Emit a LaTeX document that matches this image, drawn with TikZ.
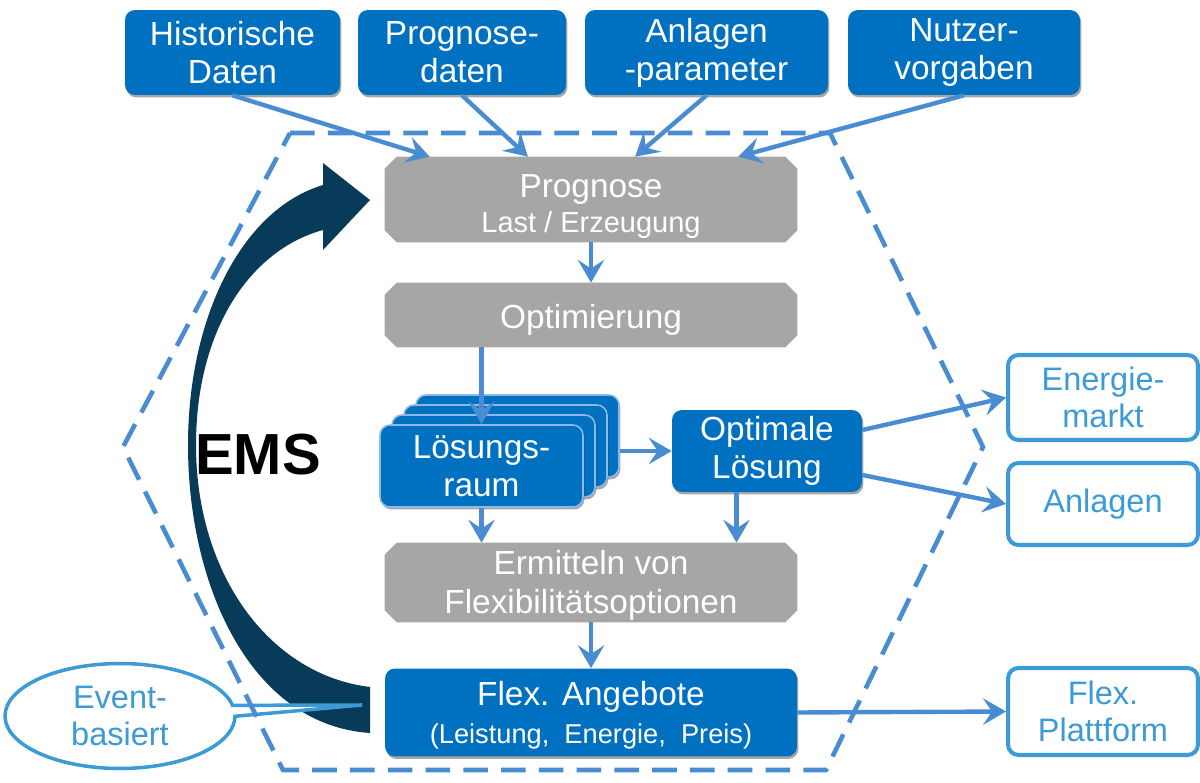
\documentclass[tikz,border=0pt]{standalone}
\usepackage{fontspec}
\setmainfont{Liberation Sans}
\usetikzlibrary{arrows.meta,shapes.callouts,shadows,calc,backgrounds}
\definecolor{boxblue}{HTML}{0070C0}
\definecolor{linkblue}{HTML}{4A8CD2}
\definecolor{outblue}{HTML}{3C9BD7}
\definecolor{edgeblue}{HTML}{8CB9E6}
\definecolor{boxgray}{HTML}{A6A6A6}
\definecolor{emsnavy}{HTML}{083A5A}

% fill a box with cut-off corners behind the named node #1
\newcommand\chamferfill[1]{%
  \fill[boxgray] ([xshift=6.8pt]#1.north west) -- ([xshift=-6.8pt]#1.north east)
    -- ([yshift=-6.8pt]#1.north east) -- ([yshift=6.8pt]#1.south east)
    -- ([xshift=-6.8pt]#1.south east) -- ([xshift=6.8pt]#1.south west)
    -- ([yshift=6.8pt]#1.south west) -- ([yshift=-6.8pt]#1.north west) -- cycle;}

\tikzset{
  x=0.02cm, y=-0.02cm,
  softshadow/.style={drop shadow={shadow xshift=0.8pt, shadow yshift=-1.4pt, opacity=0.35, fill=black}},
  bluebox/.style={rectangle, rounded corners=5.7pt, fill=boxblue, text=white, align=center,
    font=\fontsize{19}{21.5}\selectfont, inner sep=0pt, softshadow},
  graybox/.style={rectangle, text=white, align=center, font=\fontsize{19}{22}\selectfont,
    inner sep=0pt, minimum width=8.24cm},
  stackbox/.style={bluebox, draw=edgeblue, line width=0.9pt, minimum width=4.06cm, minimum height=1.64cm},
  outbox/.style={rectangle, rounded corners=6pt, draw=outblue, line width=2.3pt, fill=white,
    text=outblue, align=center, font=\fontsize{18.5}{21}\selectfont, inner sep=0pt, minimum width=3.8cm},
  link/.style={draw=linkblue, line width=2.5pt, -{Stealth[length=13pt, width=15pt, inset=5pt]}},
  hexline/.style={draw=linkblue, line width=2.6pt, dash pattern=on 14pt off 7.5pt},
}

\begin{document}
\begin{tikzpicture}
\useasboundingbox (0,0) rectangle (1200,783);

% EMS cycle arrow
\fill[emsnavy] (323,185) .. controls (240,210) and (188,320) .. (188,445)
  .. controls (188,585) and (250,725) .. (370,733)
  -- (370,687)
  .. controls (270,675) and (196,575) .. (196,445)
  .. controls (196,330) and (250,250) .. (323,230)
  -- (323,250) -- (370,200) -- (323,163) -- cycle;
\node[font=\fontsize{33}{36}\selectfont\bfseries, text=black] (ems) at (258,455) {EMS};

% event trigger callout
\node[ellipse callout, draw=outblue, line width=2pt, fill=white, text=outblue,
  align=center, font=\fontsize{18.5}{21}\selectfont, inner sep=0pt,
  minimum width=4.6cm, minimum height=2.1cm,
  callout absolute pointer={(362,705)}, callout pointer arc=12] (event) at (120,716) {Event-\\basiert};

% system boundary
\draw[hexline] (290,133) -- (830,133) -- (983,447) -- (826,770) -- (283,770) -- (123,447) -- cycle;

% inputs
\node[bluebox, minimum width=4.3cm, minimum height=1.7cm] (hist) at (232.5,52.5) {Historische\\Daten};
\node[bluebox, minimum width=4.16cm, minimum height=1.7cm] (progd) at (462,52.5) {Prognose-\\daten};
\node[bluebox, minimum width=4.86cm, minimum height=1.7cm] (anl) at (706.5,52.5) {Anlagen\\-parameter};
\node[bluebox, minimum width=4.64cm, minimum height=1.7cm] (nutz) at (964,52.5) {Nutzer-\\vorgaben};

% process steps (struts set the text block slightly low in each box)
\node[graybox, minimum height=1.7cm] (prog) at (591,199.5)
  {\rule{0pt}{21.5pt}Prognose\\[-2pt]{\fontsize{16.5}{19}\selectfont Last / Erzeugung}};
\node[graybox, minimum height=1.28cm] (opt) at (591,315) {\rule{0pt}{19pt}Optimierung};
\node[graybox, minimum height=1.58cm] (ermit) at (591,582.5)
  {\rule{0pt}{17pt}Ermitteln von\\Flexibilitätsoptionen};
\begin{scope}[on background layer]
  \chamferfill{prog}
  \chamferfill{opt}
  \chamferfill{ermit}
\end{scope}
\node[bluebox, minimum width=8.24cm, minimum height=1.76cm] (flex) at (591,712.5)
  {\rule{0pt}{17pt}Flex. Angebote\\{\fontsize{15.5}{19}\selectfont (Leistung,\ \ Energie,\ \ Preis)}};

% solution space stack
\node[stackbox] (loes3) at (517.5,436) {};
\node[stackbox] (loes2) at (505.5,446) {};
\node[stackbox] (loes1) at (493.5,456) {};
\node[stackbox] (loes) at (481.5,466) {Lösungs-\\raum};

\node[bluebox, minimum width=3.8cm, minimum height=1.64cm] (optl) at (767,451) {Optimale\\Lösung};

% outputs
\node[outbox, minimum height=1.7cm] (emarkt) at (1103,397.5) {Energie-\\markt};
\node[outbox, minimum height=1.64cm] (anlagen) at (1103,504) {Anlagen};
\node[outbox, minimum height=1.74cm] (platt) at (1103,711.5) {Flex.\\Plattform};

% connectors
\draw[link] (hist.south) -- ($(prog.north west)!0.109!(prog.north east)$);
\draw[link] (progd.south) -- ($(prog.north west)!0.347!(prog.north east)$);
\draw[link] (anl.south) -- ($(prog.north west)!0.607!(prog.north east)$);
\draw[link] (nutz.south) -- ($(prog.north west)!0.857!(prog.north east)$);
\draw[link] (prog.south) -- (opt.north);
\draw[link] (opt.south -| loes.north) -- (loes.north);
\draw[link] (optl.west -| loes3.east) -- (optl.west);
\draw[link] (loes.south) -- (loes.south |- ermit.north);
\coordinate (optlfoot) at ($(optl.south west)!0.34!(optl.south east)$);
\draw[link] (optlfoot) -- (optlfoot |- ermit.north);
\draw[link] (ermit.south) -- (flex.north);
\draw[link] ($(optl.east)+(0,-21)$) -- (emarkt.west);
\draw[link] ($(optl.east)+(0,24)$) -- (anlagen.west);
\draw[link] (flex.east) -- (platt.west);
\end{tikzpicture}
\end{document}
